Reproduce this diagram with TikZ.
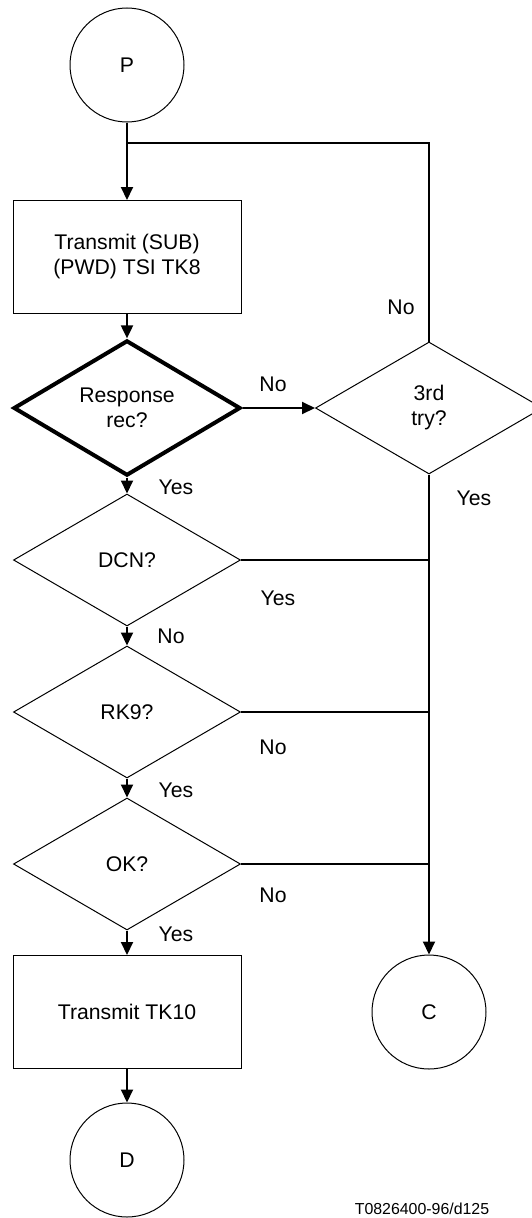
\documentclass[tikz,border=0pt]{standalone}
\usepackage{fontspec}
\setmainfont{Liberation Sans}
\usetikzlibrary{arrows.meta,shapes.geometric}

\tikzset{
  conn/.style={draw, circle, line width=1pt, minimum size=114pt, inner sep=0pt},
  proc/.style={draw, rectangle, line width=1pt, minimum width=228pt, minimum height=113pt, inner sep=0pt, align=center},
  test/.style={draw, diamond, line width=1pt, minimum width=227pt, minimum height=132pt, inner sep=0pt, align=center},
  flow/.style={-{Triangle[length=13pt,width=12pt]}, line width=2pt},
  wire/.style={line width=2pt},
  back/.style={line width=1.2pt},
  lbl/.style={inner sep=0pt}
}

\begin{document}
\begin{tikzpicture}[x=1pt, y=-1pt, font=\fontsize{21.2}{25}\selectfont]
\useasboundingbox (0,0) rectangle (532,1218);

% ---------- main column
\node[conn] (P) at (127,65) {P};
\node[proc] (tk8) at (127,257) {Transmit (SUB)\\(PWD) TSI TK8};
\node[test, line width=4pt] (resp) at (127,408) {Response\\rec?};
\node[test] (dcn) at (127,560) {DCN?};
\node[test] (rk9) at (127,712) {RK9?};
\node[test] (ok) at (127,864) {OK?};
\node[proc] (tk10) at (127,1012) {Transmit TK10};
\node[conn] (D) at (127,1160) {D};

% ---------- retry column
\node[test] (try) at (429,408) {3rd\\try?};
\node[conn] (C) at (429,1012) {C};

\coordinate (loop) at (127,143);

% ---------- connectors
\draw[flow] (P) -- (tk8);
\draw[back] (try.north) |- (loop);
\draw[flow] (tk8) -- (resp);
\draw[flow] (resp) -- (dcn);
\draw[flow] (resp.east) -- (try.west);
\draw[flow] (dcn) -- (rk9);
\draw[flow] (rk9) -- (ok);
\draw[flow] (ok) -- (tk10);
\draw[flow] (tk10) -- (D);
\draw[flow] (try.south) -- (C.north);
\foreach \n in {dcn,rk9,ok}{
  \draw[wire] (\n.east) -- (\n.east -| C.north);
}

% ---------- branch labels
\node[lbl] (noTry) at (401,307) {No};
\node[lbl] (noResp) at (273,384) {No};
\node[lbl] (yesResp) at (176,487) {Yes};
\node[lbl] (yesTry) at (474,498) {Yes};
\node[lbl] (yesDcn) at (278,598) {Yes};
\node[lbl] (noDcn) at (171,636) {No};
\node[lbl] (noRk) at (273,747) {No};
\node[lbl] (yesRk) at (176,790) {Yes};
\node[lbl] (noOk) at (273,895) {No};
\node[lbl] (yesOk) at (176,934) {Yes};

\node[font=\fontsize{15.9}{18}\selectfont] (tag) at (422,1209) {T0826400-96/d125};

\end{tikzpicture}
\end{document}
